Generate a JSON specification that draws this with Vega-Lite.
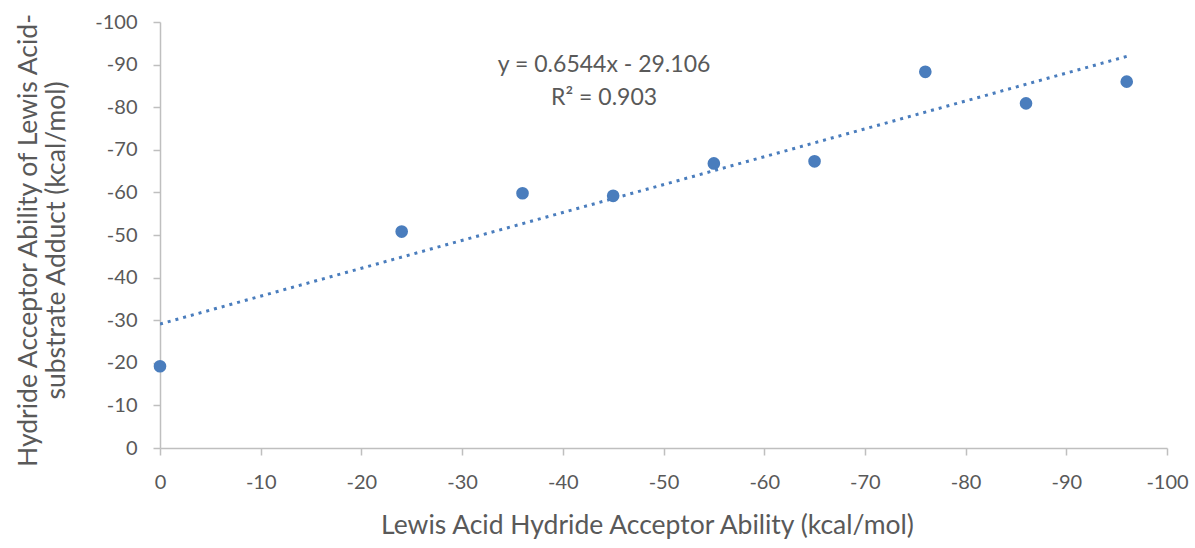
{
  "$schema": "https://vega.github.io/schema/vega-lite/v6.json",
  "width": 1007,
  "height": 426,
  "autosize": {"type": "none"},
  "padding": {"left": 160, "top": 22, "right": 28, "bottom": 100},
  "background": "white",
  "config": {
    "view": {"stroke": null},
    "font": "Lato",
    "axis": {
      "grid": false,
      "domainColor": "#bfbfbf",
      "domainWidth": 1.5,
      "tickColor": "#bfbfbf",
      "tickWidth": 1.5,
      "tickSize": 7,
      "labelColor": "#595959",
      "labelFontSize": 20,
      "labelFont": "Lato",
      "labelFlush": false,
      "labelOverlap": false,
      "labelExpr": "replace(datum.label, '−', '-')",
      "titleColor": "#595959",
      "titleFontSize": 26.5,
      "titleFont": "Lato",
      "titleFontWeight": "normal"
    }
  },
  "datasets": {
    "points": [
      {"lewis": 0, "adduct": -19.2},
      {"lewis": -24, "adduct": -50.8},
      {"lewis": -36, "adduct": -59.8},
      {"lewis": -45, "adduct": -59.2},
      {"lewis": -55, "adduct": -66.8},
      {"lewis": -65, "adduct": -67.3},
      {"lewis": -76, "adduct": -88.3},
      {"lewis": -86, "adduct": -80.9},
      {"lewis": -96, "adduct": -86.0}
    ],
    "trend": [
      {"lewis": 0, "adduct": -29.106},
      {"lewis": -96, "adduct": -91.928}
    ],
    "labels": [
      {"lewis": -44.1, "adduct": -90.0, "text": "y = 0.6544x - 29.106"},
      {"lewis": -44.1, "adduct": -82.1, "text": "R² = 0.903"}
    ]
  },
  "layer": [
    {
      "data": {"name": "trend"},
      "mark": {"type": "line", "color": "#4a7dbd", "strokeWidth": 3, "strokeDash": [3, 5], "strokeCap": "butt", "clip": true},
      "encoding": {
        "x": {
          "field": "lewis", "type": "quantitative",
          "scale": {"domain": [0, -100], "nice": false, "zero": false},
          "axis": {
            "values": [0, -10, -20, -30, -40, -50, -60, -70, -80, -90, -100],
            "title": "Lewis Acid Hydride Acceptor Ability (kcal/mol)",
            "labelPadding": 17,
            "titlePadding": 20,
            "titleX": 487
          }
        },
        "y": {
          "field": "adduct", "type": "quantitative",
          "scale": {"domain": [0, -100], "nice": false, "zero": false},
          "axis": {
            "values": [0, -10, -20, -30, -40, -50, -60, -70, -80, -90, -100],
            "title": ["Hydride Acceptor Ability of Lewis Acid-", "substrate Adduct (kcal/mol)"],
            "titleLineHeight": 28,
            "titleY": 218,
            "labelPadding": 16,
            "titlePadding": 24
          }
        }
      }
    },
    {
      "data": {"name": "points"},
      "mark": {"type": "point", "filled": true, "opacity": 1, "color": "#4a7dbd", "size": 160},
      "encoding": {
        "x": {"field": "lewis", "type": "quantitative"},
        "y": {"field": "adduct", "type": "quantitative"}
      }
    },
    {
      "data": {"name": "labels"},
      "mark": {"type": "text", "color": "#595959", "fontSize": 23, "font": "Lato", "align": "center", "baseline": "middle"},
      "encoding": {
        "x": {"field": "lewis", "type": "quantitative"},
        "y": {"field": "adduct", "type": "quantitative"},
        "text": {"field": "text"}
      }
    }
  ]
}
